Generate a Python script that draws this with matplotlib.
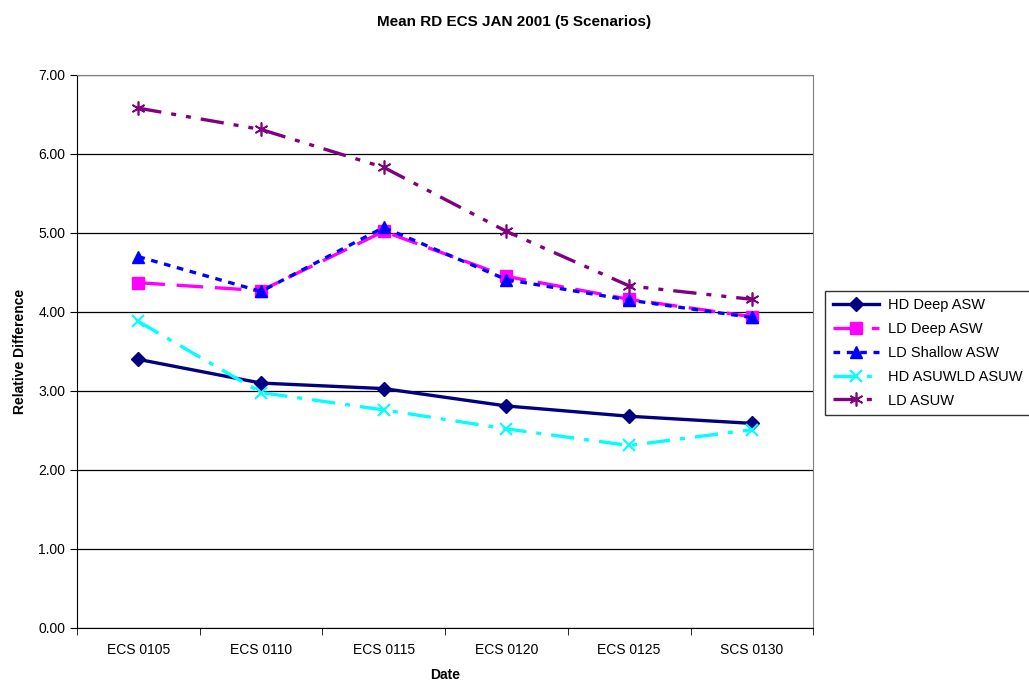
import matplotlib.pyplot as plt
import numpy as np

plt.rcParams['font.family'] = ['Liberation Sans', 'DejaVu Sans']

# dates and mean relative difference per scenario
dates = ['ECS 0105', 'ECS 0110', 'ECS 0115', 'ECS 0120', 'ECS 0125', 'SCS 0130']
hd_deep_asw = [3.40, 3.10, 3.03, 2.81, 2.68, 2.59]
ld_deep_asw = [4.37, 4.27, 5.02, 4.45, 4.16, 3.94]
ld_shallow_asw = [4.70, 4.26, 5.07, 4.41, 4.15, 3.93]
hd_asuw = [3.88, 2.98, 2.76, 2.52, 2.31, 2.51]
ld_asuw = [6.58, 6.31, 5.83, 5.02, 4.33, 4.16]

x = np.arange(len(dates))

fig = plt.figure(figsize=(10.29, 6.87), dpi=100)
ax = fig.add_axes([0.0748, 0.0859, 0.7155, 0.805])

ax.plot(x, hd_deep_asw, color='#000080', lw=2.4, marker='D', ms=7,
        label='HD Deep ASW')
ax.plot(x, ld_deep_asw, color='#FF00FF', lw=2.4, ls=(0, (8, 3.5)), marker='s', ms=9,
        label='LD Deep ASW')
ax.plot(x, ld_shallow_asw, color='#0000FF', lw=2.4, ls=(0, (2, 2)), marker='^', ms=9,
        label='LD Shallow ASW')
ax.plot(x, hd_asuw, color='#00FFFF', lw=2.4, ls=(0, (7, 3, 1.5, 3)), marker='x', ms=9,
        mew=1.5, label='HD ASUWLD ASUW')
ax.plot(x, ld_asuw, color='#800080', lw=2.4, ls=(0, (7, 3, 1.5, 3, 1.5, 3)),
        marker=(6, 2, 0), ms=10, mew=1.2, label='LD ASUW')

ax.set_xlim(-0.5, len(dates) - 0.5)
ax.set_ylim(0, 7)
ax.set_yticks(np.arange(0, 7.01, 1))
ax.set_yticklabels([f'{v:.2f}' for v in np.arange(0, 7.01, 1)])
ax.set_xticks(x)
ax.set_xticklabels(dates)
ax.set_xticks(np.arange(-0.5, len(dates), 1), minor=True)
ax.tick_params(axis='x', which='major', length=0, labelsize=10, pad=11)
ax.tick_params(axis='x', which='minor', length=5, color='#000000', direction='out')
ax.tick_params(axis='y', length=5, direction='out', labelsize=10)

ax.grid(axis='y', color='#000000', lw=0.9)
ax.set_axisbelow(True)
for side in ['top', 'right']:
    ax.spines[side].set_color('#808080')
for side in ['left', 'bottom']:
    ax.spines[side].set_color('#000000')

ax.set_xlabel('Date', fontsize=10, fontweight='bold', labelpad=8)
ax.set_ylabel('Relative Difference', fontsize=10, fontweight='bold', labelpad=8)
fig.suptitle('Mean RD ECS JAN 2001 (5 Scenarios)', fontsize=11, fontweight='bold',
             x=0.5, y=0.978)

leg = fig.legend(loc='upper left', bbox_to_anchor=(0.802, 0.577), frameon=True,
                 fancybox=False, edgecolor='#000000', fontsize=10.5, handlelength=3.2,
                 handletextpad=0.6, borderpad=0.5, labelspacing=0.68,
                 borderaxespad=0)
leg.get_frame().set_linewidth(1.0)

fig.savefig('out.png', dpi=100)
